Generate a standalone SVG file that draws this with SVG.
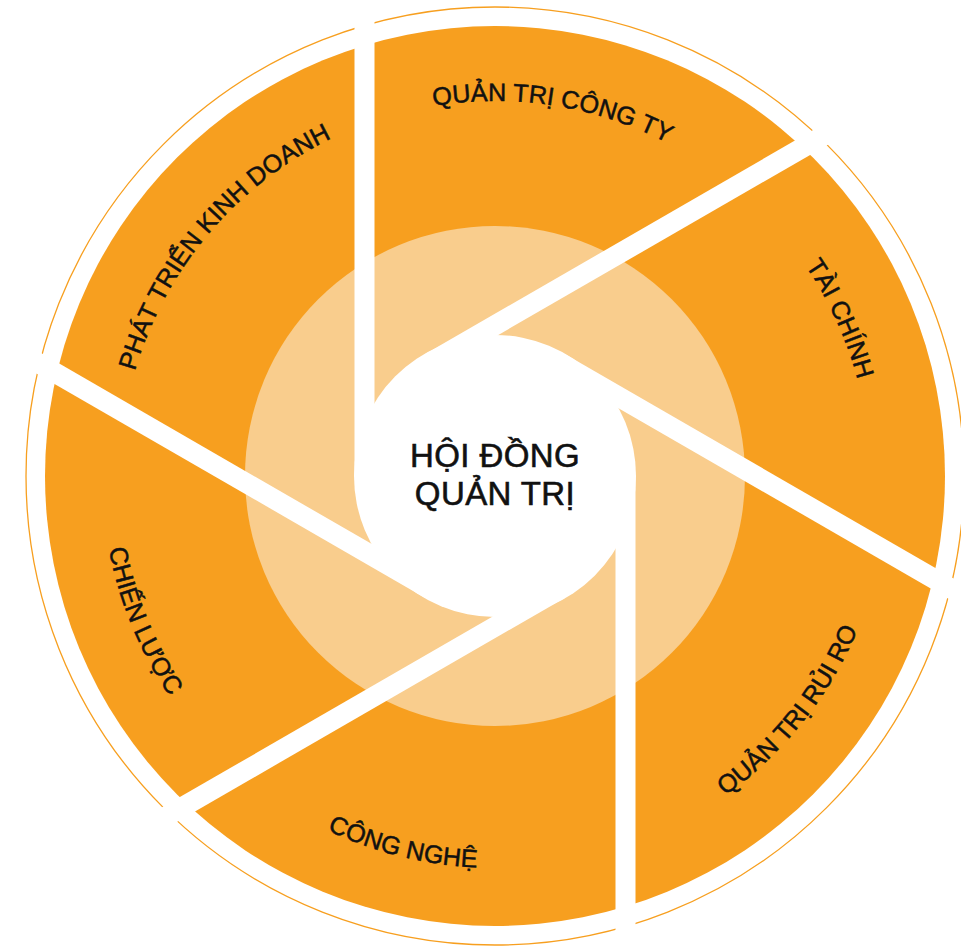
<svg xmlns="http://www.w3.org/2000/svg" width="961" height="946" viewBox="0 0 961 946">
  <style>
    .ring { fill: none; stroke: #F79F1F; stroke-width: 1.3; }
    .outer { fill: #F79F1F; }
    .inner { fill: #F9CD8D; }
    .hole { fill: #FFFFFF; }
    .gap { fill: #FFFFFF; }
    .lbl { font-family: "Liberation Sans", Arial, sans-serif; font-size: 25.2px; fill: #111111; stroke: #111111; stroke-width: 0.5; }
    .title { font-family: "Liberation Sans", Arial, sans-serif; font-size: 33px; fill: #111111; stroke: #111111; stroke-width: 0.6; letter-spacing: 0.4px; text-anchor: middle; }
  </style>
  <defs>
    <path id="p-qtct" d="M 131.14 385.28 A 375 375 0 0 1 869.09 502.16"/>
    <path id="p-tc" d="M 369.82 122.51 A 375 375 0 0 1 679.66 802.38"/>
    <path id="p-ptkd" d="M 228.91 740.24 A 375 375 0 0 1 711.16 169.57"/>
    <path id="p-qtrr" d="M 276.96 804.17 A 394 394 0 0 0 766.71 190.68"/>
    <path id="p-cn" d="M 107.83 414.68 A 392 392 0 0 0 865.64 603.62"/>
    <path id="p-cl" d="M 314.14 127.09 A 393 393 0 0 0 612.52 851.02"/>
  </defs>

  <g id="background">
    <circle class="ring" cx="495" cy="476" r="469"/>
    <circle class="outer" cx="495" cy="476" r="450"/>
    <circle class="inner" cx="495" cy="476" r="250"/>
    <circle class="hole" cx="495" cy="476" r="141"/>
  </g>

  <g id="connectors" transform="translate(495 476)">
    <rect class="gap" x="-140.5" y="-462" width="20" height="462" transform="rotate(0)"/>
    <rect class="gap" x="-140.5" y="-462" width="20" height="462" transform="rotate(60)"/>
    <rect class="gap" x="-140.5" y="-462" width="20" height="462" transform="rotate(120)"/>
    <rect class="gap" x="-140.5" y="-462" width="20" height="462" transform="rotate(180)"/>
    <rect class="gap" x="-140.5" y="-462" width="20" height="462" transform="rotate(240)"/>
    <rect class="gap" x="-140.5" y="-462" width="20" height="462" transform="rotate(300)"/>
  </g>

  <g id="node-quan-tri-cong-ty">
    <text class="lbl"><textPath href="#p-qtct" startOffset="50%" text-anchor="middle">QUẢN TRỊ CÔNG TY</textPath></text>
  </g>
  <g id="node-tai-chinh">
    <text class="lbl"><textPath href="#p-tc" startOffset="50%" text-anchor="middle">TÀI CHÍNH</textPath></text>
  </g>
  <g id="node-quan-tri-rui-ro">
    <text class="lbl"><textPath href="#p-qtrr" startOffset="50%" text-anchor="middle">QUẢN TRỊ RỦI RO</textPath></text>
  </g>
  <g id="node-cong-nghe">
    <text class="lbl"><textPath href="#p-cn" startOffset="50%" text-anchor="middle">CÔNG NGHỆ</textPath></text>
  </g>
  <g id="node-chien-luoc">
    <text class="lbl"><textPath href="#p-cl" startOffset="50%" text-anchor="middle">CHIẾN LƯỢC</textPath></text>
  </g>
  <g id="node-phat-trien-kinh-doanh">
    <text class="lbl"><textPath href="#p-ptkd" startOffset="50%" text-anchor="middle">PHÁT TRIỂN KINH DOANH</textPath></text>
  </g>

  <g id="node-hoi-dong-quan-tri">
    <text class="title" x="495" y="467">HỘI ĐỒNG</text>
    <text class="title" x="495" y="505">QUẢN TRỊ</text>
  </g>
</svg>
